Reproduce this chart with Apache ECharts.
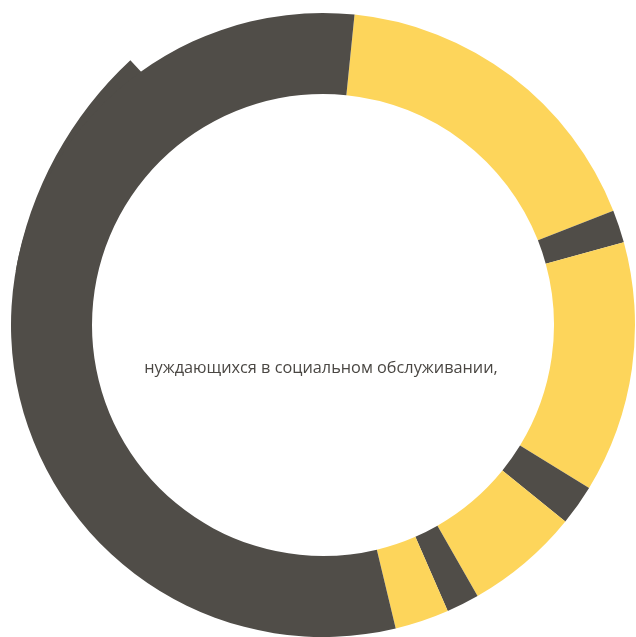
<!DOCTYPE html>
<html>
<head>
<meta charset="utf-8">
<script src="https://cdn.jsdelivr.net/npm/echarts@6/dist/echarts.min.js"></script>
<style>
html,body{margin:0;padding:0;background:#fff;}
#chart{width:636px;height:637px;}
</style>
</head>
<body>
<div id="chart"></div>
<script>
// Data (share of the full circle, %)
const categories = ['Сегмент 1', 'Сегмент 2', 'Сегмент 3', 'Сегмент 4', 'Сегмент 5', 'Сегмент 6', 'Сегмент 7', 'Сегмент 8'];
const values = [17.4, 1.7, 13.0, 2.1, 5.9, 1.7, 2.8, 55.3];
const colorsBySlice = ['#fdd55b', '#504d48', '#fdd55b', '#504d48', '#fdd55b', '#504d48', '#fdd55b', '#504d48'];
// The pointed tip sticking out of the large dark segment (visible part, remainder), degrees
const tipValues = [37.1, 322.9];
const centerText = 'нуждающихся в социальном обслуживании,';

const DARK = '#504d48';
const chart = echarts.init(document.getElementById('chart'), null, {renderer: 'canvas'});
chart.setOption({
  animation: false,
  backgroundColor: '#ffffff',
  graphic: [{
    type: 'text',
    x: 321,
    y: 368,
    style: {
      text: centerText,
      font: '16.3px "Open Sans"',
      fill: '#4a4743',
      align: 'center',
      verticalAlign: 'middle'
    }
  }],
  series: [{
    type: 'pie',
    z: 1,
    silent: true,
    center: [387, 336.3],
    radius: [320, 377],
    startAngle: 170,
    clockwise: true,
    label: {show: false},
    labelLine: {show: false},
    emphasis: {disabled: true},
    data: [
      {name: 'tip', value: tipValues[0], itemStyle: {color: DARK}},
      {name: 'rest', value: tipValues[1], itemStyle: {color: 'rgba(0,0,0,0)'}}
    ]
  }, {
    type: 'pie',
    z: 2,
    center: [323, 325],
    radius: [231, 312],
    startAngle: 84.2,
    clockwise: true,
    label: {show: false},
    labelLine: {show: false},
    emphasis: {disabled: true},
    itemStyle: {borderWidth: 0},
    data: categories.map((name, i) => ({
      name: name,
      value: values[i],
      itemStyle: {color: colorsBySlice[i]}
    }))
  }]
});
</script>
</body>
</html>
